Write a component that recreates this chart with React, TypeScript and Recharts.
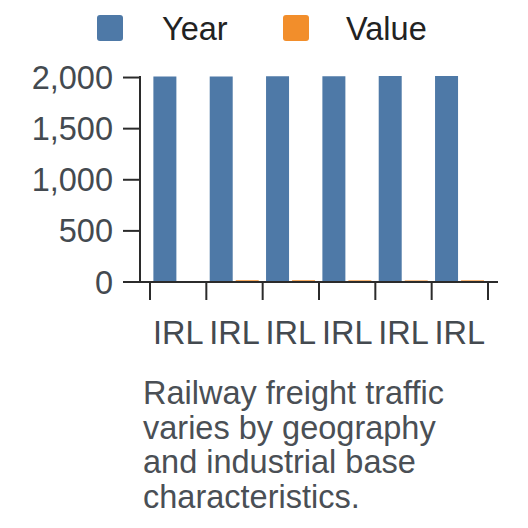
import { BarChart, Bar, XAxis, YAxis, Legend } from 'recharts';

const countries = ['IRL', 'IRL', 'IRL', 'IRL', 'IRL', 'IRL'];
const yearValues = [2010, 2011, 2012, 2013, 2014, 2015];
const valueValues = [null, 16, 17, 16, 15, 16];
const yTicks = [0, 500, 1000, 1500, 2000];
const captionLines = [
  'Railway freight traffic',
  'varies by geography',
  'and industrial base',
  'characteristics.',
];

const BLUE = '#4e79a7';
const ORANGE = '#f28e2b';
const FONT = '"Liberation Sans", Arial, sans-serif';
const FS = 32.5;

const data = countries.map((country, i) => ({
  country,
  Year: yearValues[i],
  Value: valueValues[i],
}));

function LegendContent() {
  return (
    <svg width={528} height={60} style={{ display: 'block' }}>
      <rect x={97} y={15} width={26} height={26} rx={3} fill={BLUE} />
      <text x={162} y={40} fontSize={FS} fontFamily={FONT} fill="#222">
        Year
      </text>
      <rect x={283} y={15} width={26} height={26} rx={3} fill={ORANGE} />
      <text x={346} y={40} fontSize={FS} fontFamily={FONT} fill="#222">
        Value
      </text>
    </svg>
  );
}

function CategoryTick(props: any) {
  const { x, y, payload, index, visibleTicksCount } = props;
  const half = payload?.offset ?? 28.2;
  const last = index === visibleTicksCount - 1;
  return (
    <g>
      <line x1={x - half} x2={x - half} y1={y} y2={y + 18} stroke="#2b2b2b" strokeWidth={2} />
      {last && (
        <line x1={x + half} x2={x + half} y1={y} y2={y + 18} stroke="#2b2b2b" strokeWidth={2} />
      )}
      <text x={x} y={y + 62} textAnchor="middle" fontSize={FS} fontFamily={FONT} fill="#444a50">
        {payload.value}
      </text>
    </g>
  );
}

export default function App() {
  return (
    <div style={{ position: 'absolute', left: 0, top: 0, width: 528, height: 528, background: '#fff' }}>
      <BarChart
        width={528}
        height={360}
        data={data}
        margin={{ top: 76, right: 30, bottom: 18, left: 0 }}
        barCategoryGap="6%"
        barGap={3}
      >
        <XAxis
          dataKey="country"
          padding={{ left: 10, right: 10 }}
          height={60}
          tickLine={false}
          tickSize={0}
          tickMargin={0}
          axisLine={{ stroke: '#2b2b2b', strokeWidth: 2 }}
          tick={<CategoryTick />}
          interval={0}
        />
        <YAxis
          width={140}
          domain={[0, 2000]}
          ticks={yTicks}
          tickSize={17}
          tickMargin={10}
          tickFormatter={(v: number) => v.toLocaleString('en-US')}
          axisLine={{ stroke: '#2b2b2b', strokeWidth: 2 }}
          tickLine={{ stroke: '#2b2b2b', strokeWidth: 2 }}
          tick={{ fontSize: FS, fontFamily: FONT, fill: '#444a50' }}
        />
        <Legend
          layout="vertical"
          align="center"
          verticalAlign="middle"
          wrapperStyle={{ top: 0, left: 0, width: 528 }}
          content={<LegendContent />}
        />
        <Bar dataKey="Year" fill={BLUE} isAnimationActive={false} />
        <Bar dataKey="Value" fill={ORANGE} isAnimationActive={false} />
      </BarChart>
      <div
        style={{
          position: 'absolute',
          left: 143,
          top: 376,
          fontFamily: FONT,
          fontSize: FS,
          lineHeight: '34.5px',
          color: '#4a4f55',
        }}
      >
        {captionLines.map((line) => (
          <div key={line}>{line}</div>
        ))}
      </div>
    </div>
  );
}
